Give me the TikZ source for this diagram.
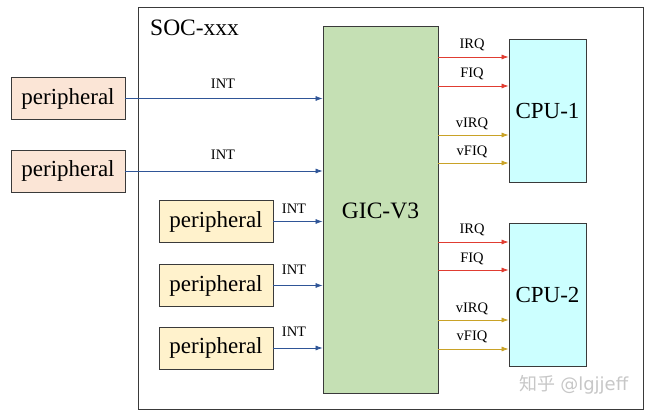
\documentclass[tikz,border=0pt]{standalone}
\usepackage{fontspec}
\setmainfont{Liberation Serif}
\newfontfamily\cjkfont{Noto Sans CJK SC}
\newfontfamily\markfont{DejaVu Sans}
\usetikzlibrary{arrows.meta}
\definecolor{perioutfill}{HTML}{FBE5D6}
\definecolor{periinfill}{HTML}{FFF2CC}
\definecolor{gicfill}{HTML}{C5E0B4}
\definecolor{cpufill}{HTML}{CCFFFF}
\definecolor{intcol}{HTML}{2F5597}
\definecolor{irqcol}{HTML}{E03C31}
\definecolor{virqcol}{HTML}{C9A227}
\definecolor{boxline}{HTML}{3A3A3A}
\tikzset{
  blk/.style={draw=boxline,line width=0.8pt,inner sep=0pt,font=\fontsize{23}{25}\selectfont},
  peri/.style={blk,minimum width=114pt,minimum height=42pt},
  sig/.style={line width=0.7pt,-{Latex[length=7pt,width=5pt]}},
  lab/.style={font=\fontsize{14.5}{16}\selectfont,inner sep=0pt}
}
\begin{document}
\begin{tikzpicture}[x=1pt,y=-1pt]
\useasboundingbox (0,0) rectangle (656,420);

% SOC frame
\draw [line width=0.8pt,draw=boxline] (138,7) rectangle (643,409);
\node [font=\fontsize{23.5}{25}\selectfont,anchor=west,inner sep=0pt] (soc) at (150,28) {SOC-xxx};

% GIC and CPUs
\node [blk,fill=gicfill,minimum width=115pt,minimum height=367pt] (gic) at (380.5,209.5) {};
\node [font=\fontsize{23.5}{25}\selectfont,inner sep=0pt] (giclab) at (380.5,211) {GIC-V3};
\node [blk,fill=cpufill,minimum width=77pt,minimum height=143pt] (cpu1) at (547.5,110.5) {CPU-1};
\node [blk,fill=cpufill,minimum width=77pt,minimum height=143pt] (cpu2) at (547.5,294.5) {CPU-2};

% Peripherals outside the SOC
\node [peri,fill=perioutfill] (pa) at (68,98.5) {peripheral};
\node [peri,fill=perioutfill] (pb) at (68,171) {peripheral};

% Peripherals inside the SOC
\node [peri,fill=periinfill] (pc) at (216,221.5) {peripheral};
\node [peri,fill=periinfill] (pd) at (216,285.5) {peripheral};
\node [peri,fill=periinfill] (pe) at (216,348) {peripheral};

% INT lines into the GIC
\foreach \p in {pa,pb,pc,pd,pe}
  \draw [sig,intcol] (\p.east) -- (gic.west |- \p.east);
\node [lab] (inta) at (223,84) {INT};
\node [lab] (intb) at (223,155) {INT};
\node [lab] (intc) at (294,209) {INT};
\node [lab] (intd) at (294,270) {INT};
\node [lab] (inte) at (294,332) {INT};

% Lines from the GIC to CPU-1
\draw [sig,irqcol] (gic.east |- 0,57) -- (cpu1.west |- 0,57);
\draw [sig,irqcol] (gic.east |- 0,86) -- (cpu1.west |- 0,86);
\draw [sig,virqcol] (gic.east |- 0,135) -- (cpu1.west |- 0,135);
\draw [sig,virqcol] (gic.east |- 0,163) -- (cpu1.west |- 0,163);
\node [lab] (irqa) at (472,45) {IRQ};
\node [lab] (fiqa) at (472,74) {FIQ};
\node [lab] (virqa) at (472,124) {vIRQ};
\node [lab] (vfiqa) at (472,152) {vFIQ};

% Lines from the GIC to CPU-2
\draw [sig,irqcol] (gic.east |- 0,242) -- (cpu2.west |- 0,242);
\draw [sig,irqcol] (gic.east |- 0,270) -- (cpu2.west |- 0,270);
\draw [sig,virqcol] (gic.east |- 0,320) -- (cpu2.west |- 0,320);
\draw [sig,virqcol] (gic.east |- 0,349) -- (cpu2.west |- 0,349);
\node [lab] (irqb) at (472,230) {IRQ};
\node [lab] (fiqb) at (472,259) {FIQ};
\node [lab] (virqb) at (472,309) {vIRQ};
\node [lab] (vfiqb) at (472,337) {vFIQ};

% Watermark
\node [text=black!22,font=\fontsize{18}{20}\selectfont,inner sep=0pt] (mark) at (574,385) {{\cjkfont 知乎} {\markfont @lgjjeff}};
\end{tikzpicture}
\end{document}
